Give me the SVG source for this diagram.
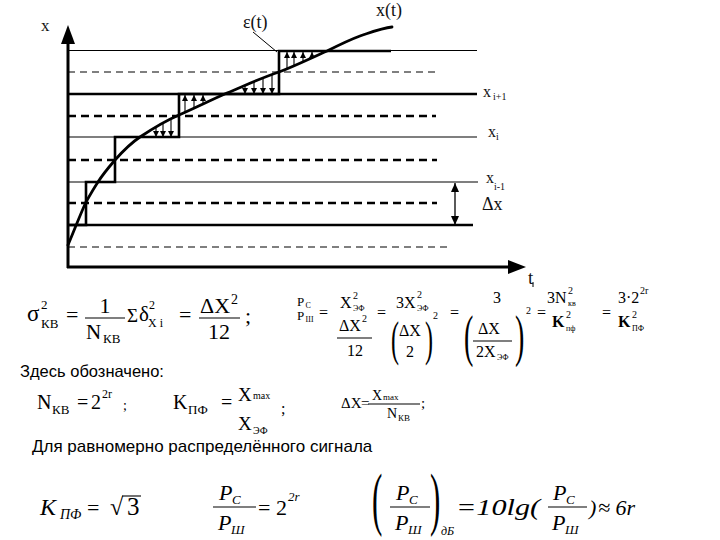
<svg xmlns="http://www.w3.org/2000/svg" width="720" height="540" viewBox="0 0 720 540">
<style>
.ser{font-family:'Liberation Serif','DejaVu Serif',serif;fill:#000}
.it{font-style:italic}
.b{font-weight:bold}
.sans{font-family:'Liberation Sans',Arial,sans-serif;fill:#000}
.lbl{font-family:'Liberation Serif','DejaVu Serif',serif;fill:#111}
.thin{stroke:#000;stroke-width:1.2;fill:none}
.thick{stroke:#000;stroke-width:2.4;fill:none}
.dthin{stroke:#000;stroke-width:1.2;stroke-dasharray:7 5;fill:none}
.dthick{stroke:#000;stroke-width:2.4;stroke-dasharray:8 5;fill:none}
.axis{stroke:#000;stroke-width:3;fill:none}
.stair{stroke:#000;stroke-width:2.6;fill:none;stroke-linejoin:miter}
.curve{stroke:#000;stroke-width:2.8;fill:none;stroke-linecap:round}
.bar{stroke:#000;stroke-width:1.1}
.err{stroke:#000;stroke-width:1.1;marker-end:url(#ah)}
</style>
<defs>
<marker id="ah" markerWidth="6" markerHeight="6" refX="6" refY="3" orient="auto" markerUnits="userSpaceOnUse" viewBox="0 0 6 6">
<path d="M0,0 L6,3 L0,6 z" fill="#000"/>
</marker>
<marker id="ahb" markerWidth="9" markerHeight="8" refX="9" refY="4" orient="auto-start-reverse" markerUnits="userSpaceOnUse" viewBox="0 0 9 8">
<path d="M0,0 L9,4 L0,8 z" fill="#000"/>
</marker>
</defs>

<g id="grid">
<line class="thin" x1="68" y1="50.5" x2="477" y2="50.5"/>
<line class="dthin" x1="68" y1="72" x2="435" y2="72"/>
<line class="thick" x1="68" y1="94" x2="477" y2="94"/>
<line class="dthick" x1="68" y1="116" x2="436" y2="116"/>
<line class="thin" x1="68" y1="137" x2="477" y2="137"/>
<line class="dthick" x1="68" y1="160" x2="437" y2="160"/>
<line class="thin" x1="68" y1="182" x2="478" y2="182"/>
<line class="dthick" x1="68" y1="203" x2="437" y2="203"/>
<line class="thick" x1="68" y1="225" x2="473" y2="225"/>
<line class="dthin" x1="68" y1="247" x2="447" y2="247"/>
</g>

<g id="axes">
<line class="axis" x1="68" y1="40" x2="68" y2="268"/>
<path d="M68,25 L61,44 L75,44 z" fill="#000"/>
<line class="axis" x1="67" y1="267" x2="510" y2="267"/>
<path d="M526,267 L508,260 L508,274 z" fill="#000"/>
<text class="lbl" font-size="17" x="41" y="31">x</text>
<text class="lbl" font-size="19" x="528" y="284">t</text>
</g>

<g id="staircase">
<path class="stair" d="M68,225 H86 V182 H115 V137 H179 V94 H279 V51 H391"/>
</g>

<g id="signal">
<path class="curve" d="M68,245 C74,231 80,215 86,202 C90,195 94,188 98,182 C103,174 109,167 115,160 C123,151 131,143 140,137 C152,129 165,121 179,115 C195,108 211,100 227,93 C244,86 261,78 279,72 C295,66 311,58 327,51 C339,45 349,40 360,36 C372,32 382,28 392,27"/>
<text class="lbl" font-size="18" x="376" y="16">x(t)</text>
</g>

<g id="errors">
<line class="err" x1="156" y1="128" x2="156" y2="137"/>
<line class="err" x1="163" y1="124" x2="163" y2="137"/>
<line class="err" x1="171" y1="119.5" x2="171" y2="137"/>
<line class="err" x1="185" y1="112" x2="185" y2="95"/>
<line class="err" x1="194" y1="108" x2="194" y2="95"/>
<line class="err" x1="203" y1="104" x2="203" y2="95"/>
<line class="err" x1="245" y1="85.7" x2="245" y2="94"/>
<line class="err" x1="254" y1="82" x2="254" y2="94"/>
<line class="err" x1="263" y1="78.5" x2="263" y2="94"/>
<line class="err" x1="272" y1="75" x2="272" y2="94"/>
<line class="err" x1="287" y1="68.7" x2="287" y2="52"/>
<line class="err" x1="294" y1="65.8" x2="294" y2="52"/>
<line class="err" x1="303" y1="62" x2="303" y2="52"/>
<line class="err" x1="312" y1="58.4" x2="312" y2="52"/>
<line x1="253" y1="32" x2="277" y2="52" stroke="#000" stroke-width="1"/>
<text class="lbl" font-size="18" x="243" y="28">ε(t)</text>
</g>

<g id="levels">
<text class="lbl" font-size="16" x="483" y="97">x</text>
<text class="lbl" font-size="10" x="493" y="100">i+1</text>
<text class="lbl" font-size="16" x="488" y="137">x</text>
<text class="lbl" font-size="10" x="496" y="140">i</text>
<text class="lbl" font-size="16" x="486" y="183">x</text>
<text class="lbl" font-size="10" x="494" y="190">i-1</text>
<text class="lbl" font-size="18" x="482" y="210">Δx</text>
<line x1="455" y1="183" x2="455" y2="225" stroke="#000" stroke-width="1.3" marker-start="url(#ahb)" marker-end="url(#ahb)"/>
</g>

<g id="formula1">
<text class="ser" font-size="23" x="27" y="321">σ</text>
<text class="ser" font-size="13" x="41" y="309">2</text>
<text class="ser" font-size="13" x="41" y="328">КВ</text>
<text class="ser" font-size="22" x="66" y="322">=</text>
<text class="ser" font-size="22" x="105" y="313" text-anchor="middle">1</text>
<line class="bar" x1="85" y1="318" x2="125" y2="318"/>
<text class="ser" font-size="21" x="86" y="339">N</text>
<text class="ser" font-size="13" x="103" y="343">КВ</text>
<text class="ser" font-size="19" x="127" y="322">Σ</text>
<text class="ser" font-size="21" x="139" y="321">δ</text>
<text class="ser" font-size="12" x="149" y="309">2</text>
<text class="ser" font-size="12" x="148" y="327">X i</text>
<text class="ser" font-size="22" x="179" y="322">=</text>
<text class="ser" font-size="22" x="200" y="313">ΔX</text>
<text class="ser" font-size="14" x="231" y="304">2</text>
<line class="bar" x1="199" y1="318" x2="240" y2="318"/>
<text class="ser" font-size="22" x="219" y="339" text-anchor="middle">12</text>
<text class="ser" font-size="22" x="245" y="323">;</text>
</g>

<g id="formula2">
<text class="ser" font-size="13" x="297" y="306">P</text>
<text class="ser" font-size="8" x="305.5" y="308">С</text>
<text class="ser" font-size="13" x="297" y="320">P</text>
<text class="ser" font-size="8" x="305.5" y="322">Ш</text>
<text class="ser" font-size="16" x="319" y="318">=</text>
<text class="ser" font-size="16" x="340" y="308">X</text>
<text class="ser" font-size="10" x="353" y="299">2</text>
<text class="ser" font-size="8" x="353" y="311">ЭФ</text>
<text class="ser" font-size="16" x="339" y="331">ΔX</text>
<text class="ser" font-size="10" x="362" y="322">2</text>
<line class="bar" x1="337" y1="338" x2="372" y2="338"/>
<text class="ser" font-size="16" x="355" y="356" text-anchor="middle">12</text>
<text class="ser" font-size="16" x="377" y="318">=</text>
<text class="ser" font-size="16" x="396" y="308">3X</text>
<text class="ser" font-size="10" x="417" y="298">2</text>
<text class="ser" font-size="8" x="417" y="311">ЭФ</text>
<text class="ser" font-size="48" transform="translate(391,354.5) scale(0.5,1)">(</text>
<text class="ser" font-size="16" x="399" y="336">ΔX</text>
<text class="ser" font-size="16" x="410" y="357" text-anchor="middle">2</text>
<text class="ser" font-size="48" transform="translate(425,354.5) scale(0.5,1)">)</text>
<text class="ser" font-size="10" x="433" y="319">2</text>
<text class="ser" font-size="16" x="450" y="318">=</text>
<text class="ser" font-size="16" x="497" y="303" text-anchor="middle">3</text>
<text class="ser" font-size="56" transform="translate(464,355) scale(0.5,1)">(</text>
<text class="ser" font-size="16" x="478" y="334">ΔX</text>
<line class="bar" x1="473" y1="341" x2="512" y2="341"/>
<text class="ser" font-size="16" x="476" y="357">2X</text>
<text class="ser" font-size="8" x="497" y="360">ЭФ</text>
<text class="ser" font-size="56" transform="translate(515,355) scale(0.5,1)">)</text>
<text class="ser" font-size="10" x="526" y="314">2</text>
<text class="ser" font-size="16" x="537" y="318">=</text>
<text class="ser" font-size="16" x="547" y="303">3N</text>
<text class="ser" font-size="10" x="568" y="294">2</text>
<text class="ser" font-size="8" x="568" y="306">кв</text>
<text class="ser b" font-size="16" x="552" y="327">K</text>
<text class="ser" font-size="10" x="566" y="318">2</text>
<text class="ser" font-size="8" x="566" y="331">пф</text>
<text class="ser" font-size="16" x="602" y="318">=</text>
<text class="ser" font-size="16" x="618" y="303">3·2</text>
<text class="ser" font-size="10" x="640" y="294">2r</text>
<text class="ser b" font-size="16" x="618" y="327">K</text>
<text class="ser" font-size="10" x="632" y="318">2</text>
<text class="ser" font-size="8" x="632" y="331">ПФ</text>
<line x1="533" y1="282" x2="533" y2="287" stroke="#000" stroke-width="1"/>
</g>

<text class="sans" font-size="16.5" x="20" y="377">Здесь обозначено:</text>

<g id="formula3">
<text class="ser" font-size="20" x="37" y="409">N</text>
<text class="ser" font-size="13" x="52" y="414">КВ</text>
<text class="ser" font-size="20" x="77" y="409">=</text>
<text class="ser" font-size="20" x="91" y="409">2</text>
<text class="ser" font-size="12" x="102" y="398">2r</text>
<text class="ser" font-size="14" x="123" y="410">;</text>
<text class="ser" font-size="20" x="173" y="409">K</text>
<text class="ser" font-size="13" x="188" y="414">ПФ</text>
<text class="ser" font-size="20" x="221" y="409">=</text>
<text class="ser" font-size="19" x="238" y="401">X</text>
<text class="ser" font-size="10" x="253" y="399">max</text>
<text class="ser" font-size="19" x="238" y="430">X</text>
<text class="ser" font-size="10" x="253" y="434">ЭФ</text>
<text class="ser" font-size="16" x="281" y="414">;</text>
<text class="ser" font-size="15" x="341" y="408">ΔX</text>
<text class="ser" font-size="15" x="361" y="408">=</text>
<text class="ser" font-size="14" x="372" y="400">X</text>
<text class="ser" font-size="9" x="383" y="400">max</text>
<line class="bar" x1="368" y1="404" x2="420" y2="404"/>
<text class="ser" font-size="14" x="387" y="418">N</text>
<text class="ser" font-size="9" x="398" y="421">КВ</text>
<text class="ser" font-size="15" x="421" y="408">;</text>
</g>

<text class="sans" font-size="17" x="32" y="452">Для равномерно распределённого сигнала</text>

<g id="formula4">
<text class="ser it" font-size="24" x="40" y="515">K</text>
<text class="ser it" font-size="14" x="60" y="519">ПФ</text>
<text class="ser" font-size="22" x="87" y="515">=</text>
<text class="ser" font-size="24" x="110" y="515">√</text>
<text class="ser" font-size="25" x="127" y="515">3</text>
<line class="bar" x1="122" y1="496" x2="141" y2="496"/>
<text class="ser it" font-size="22" x="219" y="500">P</text>
<text class="ser it" font-size="13" x="232" y="504">C</text>
<line class="bar" x1="213" y1="507" x2="256" y2="507"/>
<text class="ser it" font-size="22" x="218" y="530">P</text>
<text class="ser it" font-size="13" x="231" y="534">Ш</text>
<text class="ser" font-size="22" x="258" y="515">=</text>
<text class="ser" font-size="22" x="276" y="515">2</text>
<text class="ser it" font-size="13" x="288" y="501">2r</text>
<text class="ser" font-size="69" transform="translate(372,522) scale(0.45,1)">(</text>
<text class="ser it" font-size="22" x="396" y="500">P</text>
<text class="ser it" font-size="13" x="409" y="504">C</text>
<line class="bar" x1="390" y1="507" x2="430" y2="507"/>
<text class="ser it" font-size="22" x="395" y="530">P</text>
<text class="ser it" font-size="13" x="408" y="534">Ш</text>
<text class="ser" font-size="69" transform="translate(430,522) scale(0.45,1)">)</text>
<text class="ser it" font-size="12" x="441" y="535">дБ</text>
<text class="ser it" font-size="24" x="456" y="515" textLength="84" lengthAdjust="spacingAndGlyphs">=10lg(</text>
<text class="ser it" font-size="22" x="553" y="500">P</text>
<text class="ser it" font-size="13" x="566" y="504">C</text>
<line class="bar" x1="548" y1="507" x2="587" y2="507"/>
<text class="ser it" font-size="22" x="552" y="530">P</text>
<text class="ser it" font-size="13" x="565" y="534">Ш</text>
<text class="ser it" font-size="22" x="589" y="515">)</text>
<text class="ser it" font-size="22" x="598" y="515">≈ 6r</text>
</g>
</svg>
